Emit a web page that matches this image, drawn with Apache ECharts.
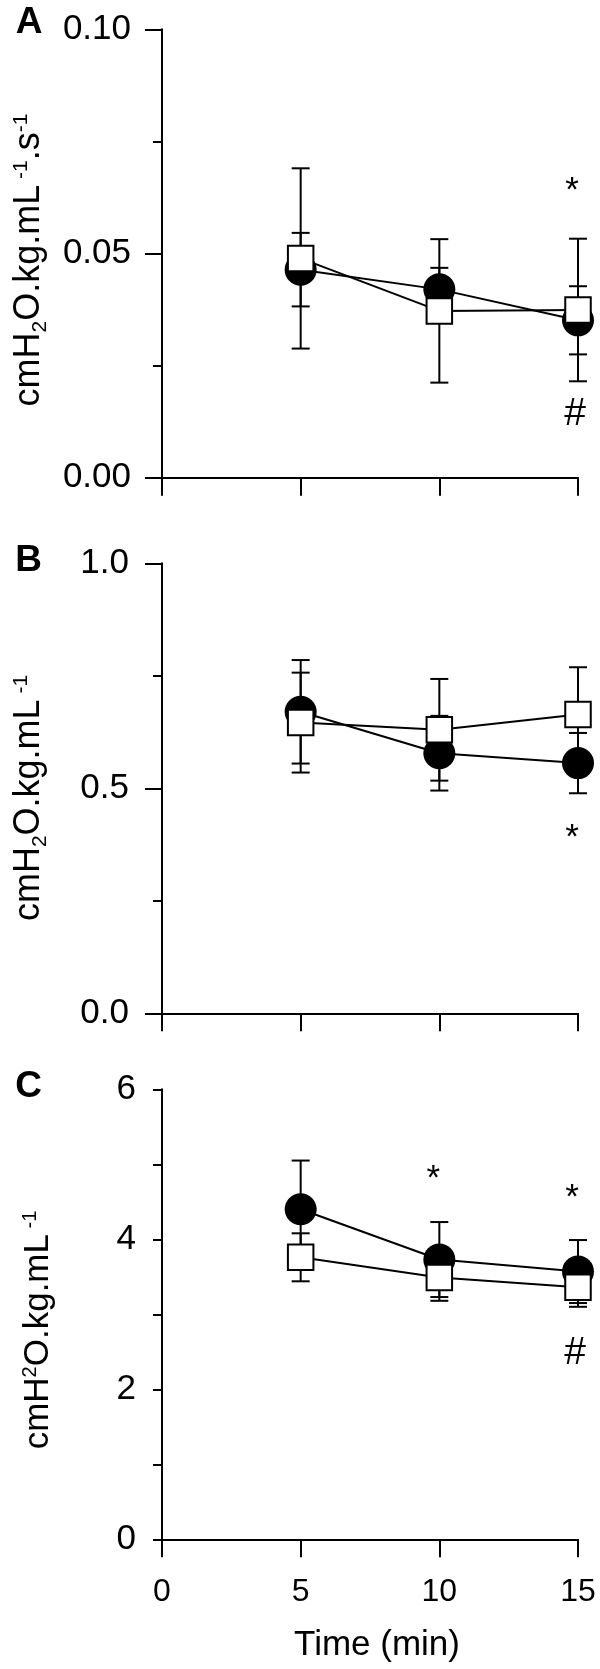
<!DOCTYPE html>
<html>
<head>
<meta charset="utf-8">
<script src="https://cdn.jsdelivr.net/npm/echarts@6/dist/echarts.min.js"></script>
<style>
html,body{margin:0;padding:0;background:#ffffff;}
#chart{width:600px;height:1669px;}
</style>
</head>
<body>
<div id="chart"></div>
<script>
// ---------- data ----------
const times = [5, 10, 15];
const xTickLabels = ['0', '5', '10', '15'];

// Panel A
const aFilled   = [0.0464, 0.0420, 0.0351];
const aFilledSD = [0.0082, 0.0048, 0.0076];
const aOpen     = [0.0489, 0.0372, 0.0374];
const aOpenSD   = [0.0201, 0.0160, 0.0159];
const aYTickLabels = ['0.00', '0.05', '0.10'];
const aAnnX = [15, 15];
const aAnnY = [0.0657, 0.0142];
const aAnnText = ['*', '#'];

// Panel B
const bFilled   = [0.670, 0.578, 0.556];
const bFilledSD = [0.115, 0.083, 0.067];
const bOpen     = [0.646, 0.630, 0.664];
const bOpenSD   = [0.111, 0.113, 0.105];
const bYTickLabels = ['0.0', '0.5', '1.0'];
const bAnnX = [15];
const bAnnY = [0.407];
const bAnnText = ['*'];

// Panel C
const cFilled   = [4.40, 3.73, 3.57];
const cFilledSD = [0.65, 0.50, 0.42];
const cOpen     = [3.76, 3.49, 3.36];
const cOpenSD   = [0.32, 0.31, 0.26];
const cYTickLabels = ['0', '2', '4', '6'];
const cAnnX = [10, 15, 15];
const cAnnY = [4.90, 4.657, 2.48];
const cAnnText = ['*', '*', '#'];

// ---------- build ----------
const FONT = '"Liberation Sans", Arial, Helvetica, sans-serif';

const panels = [
  {filled:aFilled, filledSD:aFilledSD, open:aOpen, openSD:aOpenSD, ticks:aYTickLabels,
   annX:aAnnX, annY:aAnnY, annT:aAnnText, min:0, max:0.1, interval:0.05,
   top:29.3, height:448.4, tickLen:17, labelMargin:31, showX:false},
  {filled:bFilled, filledSD:bFilledSD, open:bOpen, openSD:bOpenSD, ticks:bYTickLabels,
   annX:bAnnX, annY:bAnnY, annT:bAnnText, min:0, max:1, interval:0.5,
   top:563.3, height:450, tickLen:17, labelMargin:33, showX:false},
  {filled:cFilled, filledSD:cFilledSD, open:cOpen, openSD:cOpenSD, ticks:cYTickLabels,
   annX:cAnnX, annY:cAnnY, annT:cAnnText, min:0, max:6, interval:2,
   top:1089.3, height:450, tickLen:9, labelMargin:26, showX:true}
];

const grids = [], xAxes = [], yAxes = [], series = [];
const axisLine = {show:true, onZero:false, lineStyle:{color:'#000', width:2}};

function errRender(params, api) {
  const x = api.value(0), m = api.value(1), s = api.value(2);
  const t = api.coord([x, m + s]);
  const b = api.coord([x, m - s]);
  const hw = 9;
  const st = {stroke:'#000', lineWidth:2};
  return {type:'group', children:[
    {type:'line', shape:{x1:t[0], y1:t[1], x2:b[0], y2:b[1]}, style:st},
    {type:'line', shape:{x1:t[0]-hw, y1:t[1], x2:t[0]+hw, y2:t[1]}, style:st},
    {type:'line', shape:{x1:b[0]-hw, y1:b[1], x2:b[0]+hw, y2:b[1]}, style:st}
  ]};
}

panels.forEach((p, i) => {
  grids.push({left:162, right:22, top:p.top, height:p.height, containLabel:false, outerBoundsMode:'none'});
  xAxes.push({
    type:'value', gridIndex:i, min:0, max:15, interval:5,
    axisLine:axisLine,
    axisTick:{show:true, inside:false, length:18, lineStyle:{color:'#000', width:2}},
    axisLabel:{show:p.showX, fontSize:32, fontFamily:FONT, color:'#000', margin:37,
      formatter:(v, idx) => xTickLabels[idx]},
    splitLine:{show:false},
    name: p.showX ? 'Time (min)' : '',
    nameLocation:'middle', nameGap:89,
    nameTextStyle:{fontSize:35, fontFamily:FONT, color:'#000', padding:[0,0,0,14]}
  });
  yAxes.push({
    type:'value', gridIndex:i, min:p.min, max:p.max, interval:p.interval,
    axisLine:axisLine,
    axisTick:{show:true, inside:false, length:p.tickLen, lineStyle:{color:'#000', width:2}},
    minorTick:{show:true, splitNumber:2, length:9, lineStyle:{color:'#000', width:2}},
    axisLabel:{show:true, fontSize:35, fontFamily:FONT, color:'#000', margin:p.labelMargin,
      formatter:(v, idx) => p.ticks[idx]},
    splitLine:{show:false}, minorSplitLine:{show:false}
  });

  const errData = [];
  times.forEach((t, k) => {
    errData.push([t, p.filled[k], p.filledSD[k]]);
    errData.push([t, p.open[k], p.openSD[k]]);
  });
  series.push({
    type:'custom', xAxisIndex:i, yAxisIndex:i, renderItem:errRender,
    encode:{x:0, y:1}, data:errData, z:1, silent:true
  });
  series.push({
    type:'line', xAxisIndex:i, yAxisIndex:i, z:2, clip:false,
    data:times.map((t, k) => [t, p.filled[k]]),
    symbol:'circle', symbolSize:32, showSymbol:true,
    itemStyle:{color:'#000', borderWidth:0},
    lineStyle:{color:'#000', width:2}
  });
  series.push({
    type:'line', xAxisIndex:i, yAxisIndex:i, z:3, clip:false,
    data:times.map((t, k) => [t, p.open[k]]),
    symbol:'rect', symbolSize:25.5, showSymbol:true,
    itemStyle:{color:'#fff', borderColor:'#000', borderWidth:2},
    lineStyle:{color:'#000', width:2}
  });
  series.push({
    type:'custom', xAxisIndex:i, yAxisIndex:i, z:4, silent:true,
    encode:{x:0, y:1},
    data:p.annX.map((x, k) => [x, p.annY[k]]),
    renderItem:(params, api) => {
      const pt = api.coord([api.value(0), api.value(1)]);
      const txt = p.annT[params.dataIndex];
      const star = txt === '*';
      return {type:'text', x:pt[0] + (star ? -6 : -3), y:pt[1] + (star ? 8 : 0),
        style:{text:txt, fontSize: star ? 35 : 39, fontFamily:FONT, fill:'#000',
          align:'center', verticalAlign:'middle'}};
    }
  });
});

function yTitle(x, y, text, size, supSize) {
  const rich = {
    m:{fontSize:size, lineHeight:size, fontFamily:FONT, fill:'#000'},
    sub:{fontSize:supSize, lineHeight:supSize, fontFamily:FONT, fill:'#000', padding:[23,0,0,0]},
    sup:{fontSize:supSize, lineHeight:supSize, fontFamily:FONT, fill:'#000', padding:[0,0,16,0]}
  };
  return {type:'text', x:x, y:y, rotation:Math.PI/2, silent:true,
    style:{text:text, rich:rich, fontFamily:FONT, fontSize:size, fill:'#000',
      align:'center', verticalAlign:'middle'}};
}
function letter(x, y, t) {
  return {type:'text', x:x, y:y, silent:true,
    style:{text:t, fontSize:37, fontWeight:'bold', fontFamily:FONT, fill:'#000',
      align:'center', verticalAlign:'middle'}};
}

const option = {
  animation:false,
  backgroundColor:'#ffffff',
  grid:grids, xAxis:xAxes, yAxis:yAxes, series:series,
  graphic:[
    letter(29, 23, 'A'), letter(28.5, 561, 'B'), letter(28.5, 1087, 'C'),
    yTitle(29, 260, '{m|cmH}{sub|2}{m|O.kg.mL}{sup| -1}{m|.s}{sup|-1}', 36, 21),
    yTitle(29, 798, '{m|cmH}{sub|2}{m|O.kg.mL}{sup| -1}', 36, 21),
    yTitle(38, 1330, '{m|cmH}{sup|2}{m|O.kg.mL}{sup| -1}', 35, 20)
  ]
};

const chart = echarts.init(document.getElementById('chart'), null, {renderer:'canvas'});
chart.setOption(option);
</script>
</body>
</html>
